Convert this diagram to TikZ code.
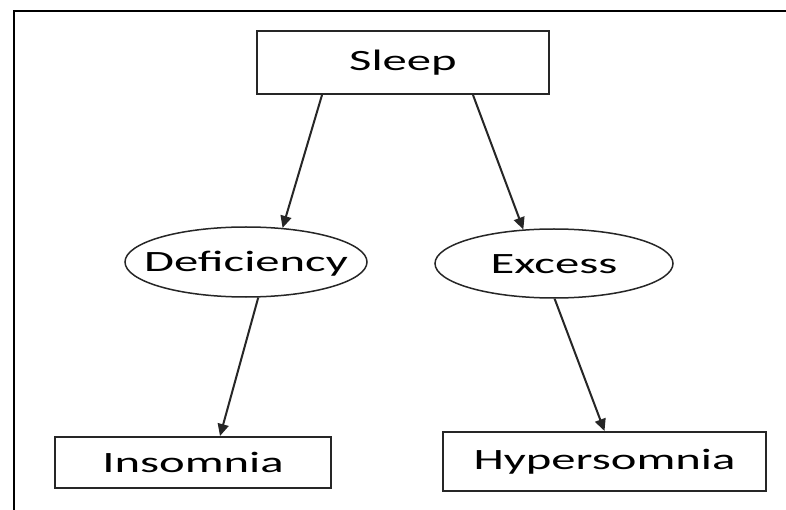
\documentclass[tikz,border=0pt]{standalone}
\usepackage{fontspec}
\setmainfont{Carlito}
\usetikzlibrary{shapes.geometric,arrows.meta}
\newcommand{\widetxt}[1]{\scalebox{1.65}[1]{#1}}
\newcommand{\ctrtxt}[1]{\smash{\raisebox{-0.33em}{\makebox[0pt]{\widetxt{#1}}}}}
\begin{document}
\begin{tikzpicture}[x=1pt,y=-1pt,
  boxnode/.style={draw=black!85,line width=2pt,rectangle,inner sep=0pt,
    font=\fontsize{29.5}{34}\selectfont},
  ellnode/.style={draw=black!85,line width=1.5pt,ellipse,inner sep=0pt,
    font=\fontsize{29.5}{34}\selectfont},
  arr/.style={draw=black!85,line width=2pt,-{Triangle[length=12pt,width=11pt]}},
  frameline/.style={draw=black,line width=2.5pt}]
\useasboundingbox (0,0) rectangle (786,510);
\fill[white] (0,0) rectangle (786,510);
\coordinate (fbl) at (14,515);
\coordinate (ftl) at (14,11);
\coordinate (ftr) at (790,11);
\draw[frameline] (fbl) -- (ftl) -- (ftr);
\node[boxnode,minimum width=292pt,minimum height=63pt] (sleep) at (403,62.5) {\widetxt{Sleep}};
\node[ellnode,minimum width=242pt,minimum height=70pt] (def) at (246,262) {\ctrtxt{Deficiency}};
\node[ellnode,minimum width=238pt,minimum height=69pt] (exc) at (554,263.5) {\ctrtxt{Excess}};
\node[boxnode,minimum width=276pt,minimum height=51pt] (ins) at (193,462.5) {\widetxt{Insomnia}};
\node[boxnode,minimum width=323pt,minimum height=59pt] (hyp) at (604.5,461.5) {\widetxt{Hypersomnia}};
\draw[arr] ([xshift=-81pt]sleep.south) -- (def.43);
\draw[arr] ([xshift=70pt]sleep.south) -- (exc.132);
\draw[arr] (def.289) -- ([xshift=27pt]ins.north);
\draw[arr] (exc.271) -- (hyp.north);
\end{tikzpicture}
\end{document}
